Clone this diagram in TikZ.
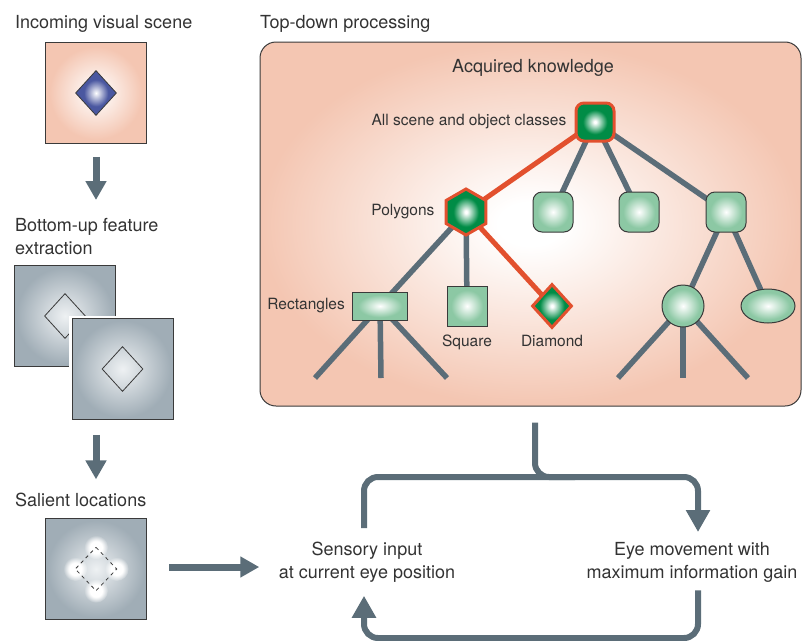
\documentclass[tikz,border=0pt]{standalone}
\usepackage{fontspec}
\setmainfont{TeX Gyre Heros}
\usetikzlibrary{arrows.meta,shapes.geometric,fadings}
\definecolor{salmonC}{HTML}{F4C6B2}
\definecolor{grayEdge}{HTML}{A0ADB6}
\definecolor{grayMid}{HTML}{EEF1F3}
\definecolor{blueC}{HTML}{4A57A0}
\definecolor{darkG}{HTML}{008C46}
\definecolor{lightG}{HTML}{8CC8A4}
\definecolor{redC}{HTML}{E2502E}
\definecolor{lineC}{HTML}{5B6D78}
\definecolor{txtC}{HTML}{333333}
\definecolor{bordC}{HTML}{3A3A3A}
\pgfdeclareradialshading{bigglow}{\pgfpoint{0bp}{0bp}}{color(0bp)=(white); color(3bp)=(white); color(25bp)=(salmonC); color(50bp)=(salmonC)}
\pgfdeclareradialshading{salmonsq}{\pgfpoint{0bp}{0bp}}{color(0bp)=(white); color(1bp)=(white); color(23bp)=(salmonC); color(50bp)=(salmonC)}
\pgfdeclareradialshading{graysq}{\pgfpoint{0bp}{0bp}}{color(0bp)=(grayMid); color(24bp)=(grayEdge); color(50bp)=(grayEdge)}
\pgfdeclareradialshading{blueglow}{\pgfpoint{0bp}{0bp}}{color(0bp)=(white); color(15bp)=(blueC); color(50bp)=(blueC)}
\pgfdeclareradialshading{darkglow}{\pgfpoint{0bp}{0bp}}{color(0bp)=(white); color(1.5bp)=(white); color(16bp)=(darkG); color(50bp)=(darkG)}
\pgfdeclareradialshading{lightglow}{\pgfpoint{0bp}{0bp}}{color(0bp)=(white); color(20bp)=(lightG); color(50bp)=(lightG)}
\pgfdeclareradialshading{softdotsh}{\pgfpoint{0bp}{0bp}}{color(0bp)=(pgftransparent!0); color(13bp)=(pgftransparent!0); color(25bp)=(pgftransparent!100); color(50bp)=(pgftransparent!100)}
\pgfdeclarefading{softdot}{\pgfuseshading{softdotsh}}
\pgfdeclarelayer{back}
\pgfdeclarelayer{mid}
\pgfsetlayers{back,mid,main}
\begin{document}
\begin{tikzpicture}[x=1pt,y=-1pt,
  mlab/.style={font=\fontsize{18}{23}\selectfont, text=txtC, inner sep=0pt},
  tlab/.style={font=\fontsize{15.5}{18}\selectfont, text=txtC, inner sep=0pt},
  kbox/.style={draw=bordC, line width=1pt, rounded corners=16pt, shade, shading=bigglow, inner sep=0pt},
  picsq/.style={draw=bordC, line width=0.8pt, shade, inner sep=0pt, minimum size=101pt},
  picdia/.style={diamond, draw=bordC, line width=0.8pt, inner sep=0pt, minimum width=41pt, minimum height=45pt},
  darknode/.style={draw=redC, line width=3pt, shade, shading=darkglow, inner sep=0pt},
  lightnode/.style={draw=bordC, line width=1pt, shade, shading=lightglow, inner sep=0pt},
  treeedge/.style={draw=lineC, line width=5.5pt},
  rededge/.style={draw=redC, line width=5pt},
  colarrow/.style={draw=lineC, line width=7pt, -{Triangle[width=20pt,length=19pt]}},
  loopline/.style={draw=lineC, line width=6pt, rounded corners=14pt},
  looparrow/.style={-{Triangle[width=23pt,length=22pt]}}
]
\useasboundingbox (0,0) rectangle (802,640);

% ---------- left column ----------
\node[mlab, anchor=base west] (tIn) at (15,28) {Incoming visual scene};
\node[picsq, shading=salmonsq] (scene) at (96,93) {};
\node[picdia, shade, shading=blueglow] (sdia) at (96,93) {};

\node[mlab, anchor=north west, align=left] (tBot) at (15,218.5) {Bottom-up feature\\extraction};
\node[picsq, shading=graysq] (fb) at (65,316) {};
\node[picdia] (fbdia) at (65,316) {};
\node[picsq, shading=graysq, preaction={draw=white, line width=6pt}] (ff) at (122.5,369) {};
\node[picdia] (ffdia) at (122.5,369) {};

\node[mlab, anchor=base west] (tSal) at (15,506) {Salient locations};
\node[picsq, shading=graysq] (sal) at (96,569) {};
\node[diamond, inner sep=0pt, minimum width=41pt, minimum height=43pt] (saldia) at (96,569) {};
\foreach \a in {north,south,east,west}{
  \fill[white, path fading=softdot] (saldia.\a) circle (12pt);
}
\draw[bordC, line width=0.8pt, dash pattern=on 3.5pt off 3.5pt]
  (saldia.north) -- (saldia.east) -- (saldia.south) -- (saldia.west) -- cycle;

\draw[colarrow, shorten <=13pt, shorten >=18.5pt] (scene.south) -- (scene.south |- tBot.north);
\draw[colarrow, shorten <=15pt, shorten >=13pt] (scene.south |- ff.south) -- (scene.south |- tSal.north);

% ---------- top-down box ----------
\node[mlab, anchor=base west] (tTop) at (260,28) {Top-down processing};
\begin{pgfonlayer}{back}
\node[kbox, minimum width=541pt, minimum height=364pt] (kb) at (530.5,224) {};
\end{pgfonlayer}
\node[mlab, anchor=base] (tAcq) at (533,72) {Acquired knowledge};

% tree nodes
\node[darknode, rounded corners=8pt, minimum size=38pt] (root) at (595,122) {};
\node[darknode, regular polygon, regular polygon sides=6, shape border rotate=30, minimum size=46pt] (poly) at (466,212) {};
\node[lightnode, rounded corners=9pt, minimum size=40pt] (c1) at (553,212) {};
\node[lightnode, rounded corners=9pt, minimum size=40pt] (c2) at (639,212) {};
\node[lightnode, rounded corners=9pt, minimum size=40pt] (c3) at (726,212) {};
\node[lightnode, minimum width=55pt, minimum height=28pt] (rect) at (380,306) {};
\node[lightnode, minimum size=40pt] (sq) at (467,306) {};
\node[darknode, diamond, minimum width=40pt, minimum height=44pt] (dia) at (552,306) {};
\node[lightnode, circle, minimum size=42pt] (circ) at (683,306) {};
\node[lightnode, ellipse, minimum width=54pt, minimum height=34pt] (ell) at (768,306) {};

\coordinate (r1) at (315,378);
\coordinate (r2) at (381,378);
\coordinate (r3) at (447,378);
\coordinate (k1) at (618,378);
\coordinate (k2) at (683,378);
\coordinate (k3) at (748,378);

\begin{pgfonlayer}{mid}
\draw[treeedge] (root.center) -- (c1.center);
\draw[treeedge] (root.center) -- (c2.center);
\draw[treeedge] (root.center) -- (c3.center);
\draw[treeedge] (poly.center) -- (rect.center);
\draw[treeedge] (poly.center) -- (sq.center);
\draw[treeedge] (rect.center) -- (r1);
\draw[treeedge] (rect.center) -- (r2);
\draw[treeedge] (rect.center) -- (r3);
\draw[treeedge] (c3.center) -- (circ.center);
\draw[treeedge] (c3.center) -- (ell.center);
\draw[treeedge] (circ.center) -- (k1);
\draw[treeedge] (circ.center) -- (k2);
\draw[treeedge] (circ.center) -- (k3);
\draw[rededge] (root.center) -- (poly.center);
\draw[rededge] (poly.center) -- (dia.center);
\end{pgfonlayer}

% tree labels
\node[tlab, anchor=east] (lroot) at ([xshift=-8pt]root.west) {All scene and object classes};
\node[tlab, anchor=east] (lpoly) at ([xshift=-10pt]poly.west) {Polygons};
\node[tlab, anchor=east] (lrect) at ([xshift=-7pt]rect.west) {Rectangles};
\node[tlab, anchor=base] (lsq) at ([yshift=-20pt]sq.south) {Square};
\node[tlab, anchor=base] (ldia) at (dia |- lsq.base) {Diamond};

% ---------- loop ----------
\node[mlab, align=center, anchor=north] (sens) at (367,542) {Sensory input\\at current eye position};
\node[mlab, align=center, anchor=north] (eye) at (692,542) {Eye movement with\\maximum information gain};

\draw[colarrow, shorten <=22.5pt, shorten >=19.5pt] ([yshift=2pt]sal.east) -- ([yshift=2pt]sal.east -| sens.west);

\coordinate (lt) at (364,477);
\coordinate (rt) at (698,477);
\coordinate (lb) at (364,638);
\coordinate (rb) at (698,638);
\coordinate (stemJoin) at (535,477);
\coordinate (stemEnd) at (575,477);

\draw[loopline] ([xshift=4.5pt,yshift=-16pt]kb.south) -- (stemJoin) -- (stemEnd);
\draw[loopline, looparrow] ([xshift=-3pt,yshift=14pt]sens.north) -- (lt) -- (rt) -- ([xshift=6pt,yshift=10pt]eye.north);
\draw[loopline, looparrow] ([xshift=6pt,yshift=-8pt]eye.south) -- (rb) -- (lb) -- ([xshift=-3pt,yshift=-13pt]sens.south);
\end{tikzpicture}
\end{document}
